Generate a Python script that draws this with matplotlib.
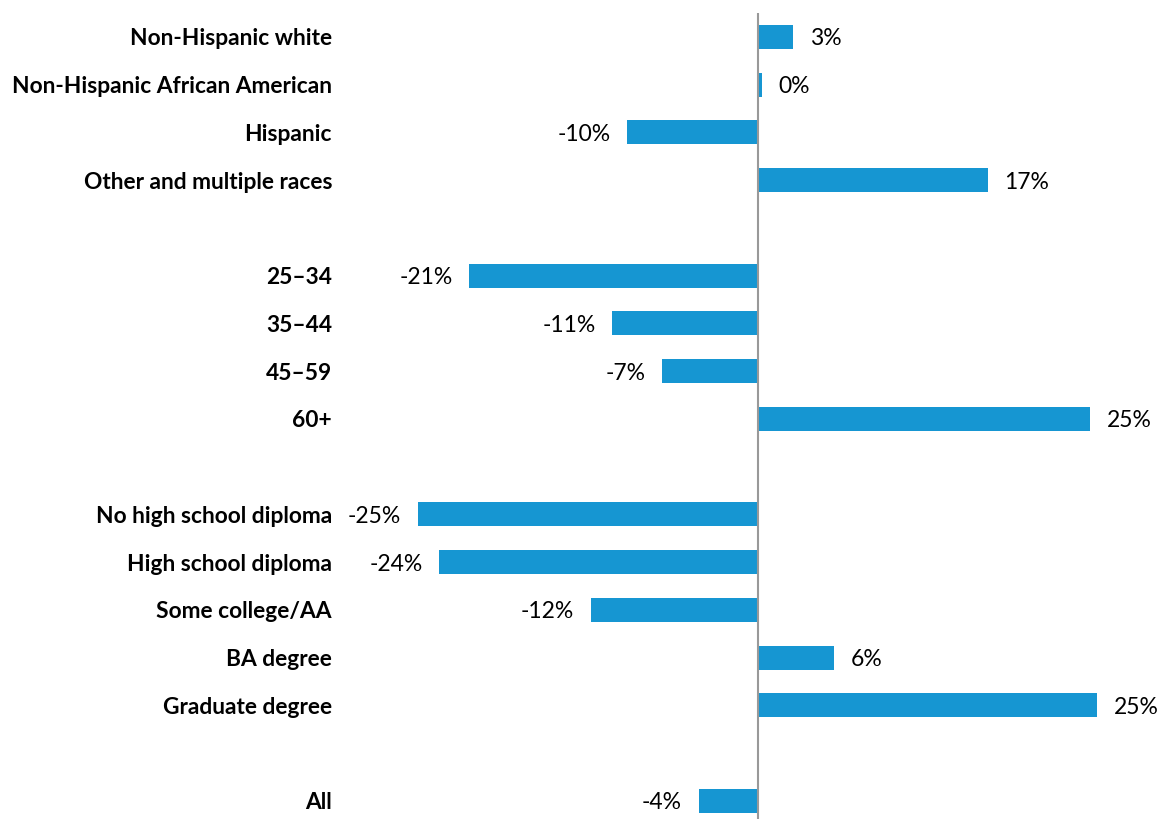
import matplotlib
matplotlib.use("Agg")
import matplotlib.pyplot as plt

# rows, None = blank spacer row
labels = ["Non-Hispanic white", "Non-Hispanic African American", "Hispanic",
          "Other and multiple races", None,
          "25\u201334", "35\u201344", "45\u201359", "60+", None,
          "No high school diploma", "High school diploma", "Some college/AA",
          "BA degree", "Graduate degree", None,
          "All"]
values = [2.6, 0.3, -9.7, 17.0, None,
          -21.4, -10.8, -7.1, 24.6, None,
          -25.2, -23.6, -12.4, 5.6, 25.1, None,
          -4.4]

BLUE = "#1696d2"
W, H = 1161, 819
scale = 13.5          # px per percentage point
zero_px = 758
xmin, xmax = -27.5, (W - zero_px) / scale

fig = plt.figure(figsize=(W / 100, H / 100), dpi=100)
left_px = zero_px + xmin * scale
ax = fig.add_axes([left_px / W, 0, (xmax - xmin) * scale / W, (H - 13) / H])

rows = [i for i, v in enumerate(values) if v is not None]
vals = [values[i] for i in rows]
ax.barh(rows, vals, height=0.5, color=BLUE, zorder=2)

ax.set_xlim(xmin, xmax)
ax.set_ylim((H - 13) / 47.75 - 0.5, -0.5)
ax.axvline(0, color="#999999", lw=1.5, zorder=3)

for r, v in zip(rows, vals):
    txt = "%d%%" % round(v)
    off = 12 if v >= 0 else -12
    ax.annotate(txt, (v, r), xytext=(off, 0), textcoords="offset points",
                ha="left" if v >= 0 else "right", va="center_baseline",
                fontsize=16.5, family="Lato", color="#000000")

ax.set_yticks(rows)
ax.set_yticklabels([labels[i] for i in rows], fontsize=16.4, family="Lato",
                   fontweight="bold")
ax.tick_params(axis="y", length=0, pad=(left_px - 332) * 0.72)
ax.set_xticks([])
for s in ax.spines.values():
    s.set_visible(False)

fig.savefig("out.png", dpi=100)
